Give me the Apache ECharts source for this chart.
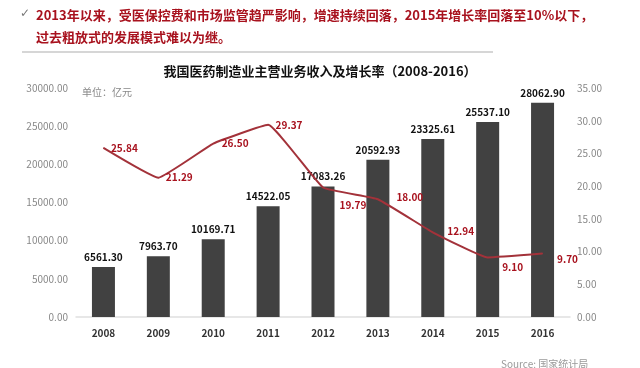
<!DOCTYPE html>
<html><head><meta charset="utf-8">
<script src="https://cdn.jsdelivr.net/npm/echarts@6/dist/echarts.min.js"></script>
<style>html,body{margin:0;padding:0;background:#fff;}#c{width:640px;height:368px;}</style>
</head><body><div id="c"></div>
<script>
const years = ['2008','2009','2010','2011','2012','2013','2014','2015','2016'];
const revenue = [6561.30, 7963.70, 10169.71, 14522.05, 17083.26, 20592.93, 23325.61, 25537.10, 28062.90];
const growth = [25.84, 21.29, 26.50, 29.37, 19.79, 18.00, 12.94, 9.10, 9.70];
const leftTicks = [0, 5000, 10000, 15000, 20000, 25000, 30000];
const rightTicks = [0, 5, 10, 15, 20, 25, 30, 35];

// label placement per point relative to the point (style only)
const growthLabelPos = [[8,1],[8,0],[9,0],[8,1],[17,18],[19,-2],[15,-1],[15,10],[15,6]];

const chart = echarts.init(document.getElementById('c'), null, {renderer:'canvas'});
const FONT = '"Noto Sans CJK SC","Microsoft YaHei",sans-serif';
chart.setOption({
  backgroundColor: '#fff',
  animation: false,
  textStyle: {fontFamily: FONT},
  title: [
    {text: '我国医药制造业主营业务收入及增长率（2008-2016）', left: 'center', top: 60,
     textStyle: {fontSize: 13, fontWeight: 'bold', color: '#111', fontFamily: FONT}},
    {text: '单位：亿元', left: 77, top: 82, textStyle: {fontSize: 10, fontWeight: 'normal', color: '#888', fontFamily: FONT}},
    {text: 'Source: 国家统计局', left: 496, top: 354, textStyle: {fontSize: 10, fontWeight: 'normal', color: '#999', fontFamily: FONT}}
  ],
  graphic: [
    {type: 'text', left: 20, top: 8, style: {text: '✓', fill: '#777', font: '12px "DejaVu Sans"'}},
    {type: 'text', left: 36, top: 4, style: {text: '2013年以来，受医保控费和市场监管趋严影响，增速持续回落，2015年增长率回落至10%以下，\n过去粗放式的发展模式难以为继。', fill: '#a8121e', font: 'bold 13px ' + FONT, lineHeight: 22}},
    {type: 'line', shape: {x1: 22, y1: 52, x2: 493, y2: 52}, style: {stroke: '#c8c8c8', lineWidth: 1.5}}
  ],
  grid: {left: 76, right: 70, top: 88, bottom: 51},
  xAxis: {
    type: 'category', data: years,
    axisLine: {show: true, lineStyle: {color: '#e0e0e0', width: 1.5}},
    axisTick: {show: false},
    axisLabel: {color: '#333', fontSize: 10, fontWeight: 'bold', margin: 11, fontFamily: FONT}
  },
  yAxis: [
    {type: 'value', min: leftTicks[0], max: leftTicks[leftTicks.length-1], interval: 5000,
     axisLine: {show: false}, axisTick: {show: false}, splitLine: {show: false},
     axisLabel: {color: '#888', fontSize: 10, margin: 8, formatter: v => v.toFixed(2), fontFamily: FONT}},
    {type: 'value', min: rightTicks[0], max: rightTicks[rightTicks.length-1], interval: 5,
     axisLine: {show: false}, axisTick: {show: false}, splitLine: {show: false},
     axisLabel: {color: '#888', fontSize: 10, margin: 7, formatter: v => v.toFixed(2), fontFamily: FONT}}
  ],
  series: [
    {type: 'bar', data: revenue, barWidth: 23, yAxisIndex: 0, z: 2,
     itemStyle: {color: '#414141'},
     label: {show: true, position: 'top', distance: 5, color: '#111', fontSize: 10, fontWeight: 'bold',
             formatter: p => p.value.toFixed(2), fontFamily: FONT}},
    {type: 'line', yAxisIndex: 1, z: 5, smooth: 0.1, symbol: 'circle', symbolSize: 1, showSymbol: true,
     itemStyle: {color: '#a3323a'},
     lineStyle: {color: '#a3323a', width: 2},
     data: growth.map((v, i) => ({value: v, label: {position: growthLabelPos[i]}})),
     label: {show: true, align: 'left', verticalAlign: 'middle', color: '#a8121e', fontSize: 10, fontWeight: 'bold',
             formatter: p => Number(p.value).toFixed(2), fontFamily: FONT},
     labelLayout: {hideOverlap: false}}
  ]
});
</script></body></html>
